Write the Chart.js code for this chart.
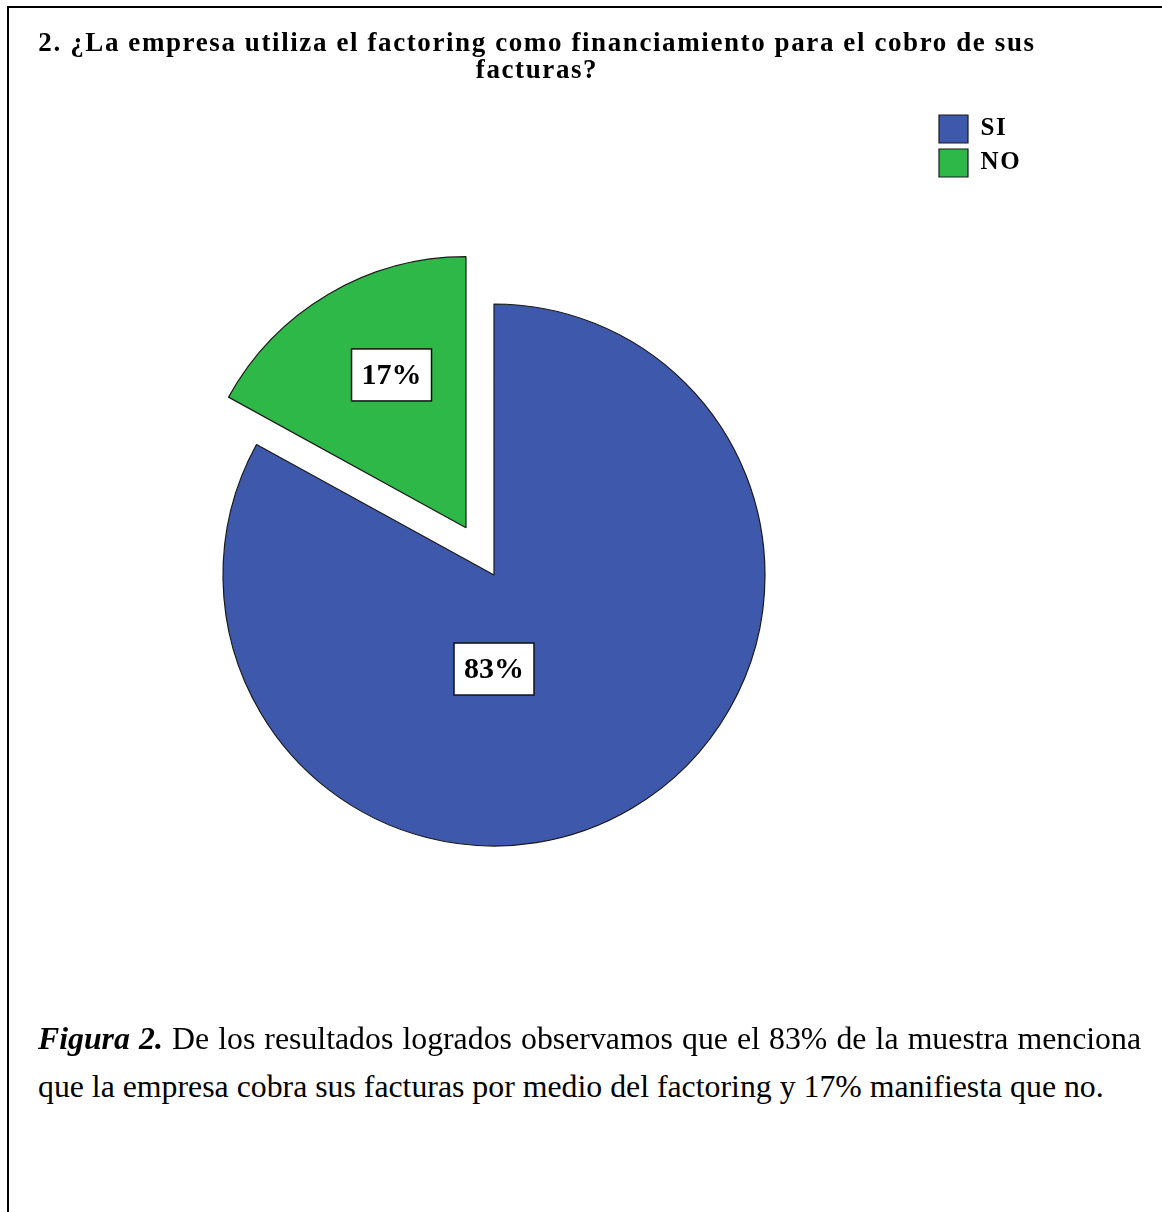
<!DOCTYPE html>
<html lang="es">

<head>
  <meta charset="UTF-8">
  <title>Factoring</title>
  <script src="https://cdn.jsdelivr.net/npm/chart.js"></script>
  <style>
    body { margin: 0; background: #fff; }
    #page { position: relative; width: 1162px; height: 1212px; overflow: hidden; }
    #frame {
      position: absolute; left: 7px; top: 6px; width: 1170px; height: 1220px;
      border-top: 2px solid #000; border-left: 2px solid #000;
    }
    #chartBox { position: absolute; left: 0; top: 0; }
    .caption {
      position: absolute; left: 38px; width: 1103px;
      font-family: 'Liberation Serif', 'Times New Roman', serif;
      font-size: 31.8px; color: #000; white-space: nowrap;
    }
    #cap1 { top: 1021px; text-align: justify; text-align-last: justify; white-space: normal; }
    #cap2 { top: 1069px; }
  </style>
</head>

<body>
  <div id="page">
    <div id="frame"></div>
    <div id="chartBox"><canvas id="pieChart" width="1074" height="1041"></canvas></div>
    <div class="caption" id="cap1"><b><i>Figura 2.</i></b> De los resultados logrados observamos que el 83% de la muestra menciona</div>
    <div class="caption" id="cap2">que la empresa cobra sus facturas por medio del factoring y 17% manifiesta que no.</div>
  </div>
  <script>

    var titleLines = [
      '2. ¿La empresa utiliza el factoring como financiamiento para el cobro de sus',
      'facturas?'
    ];
    var categories = ['SI', 'NO'];
    var percentages = [83, 17];
    var sliceColors = ['#3E58AC', '#2EB848'];

    Chart.defaults.font.family = "'Liberation Serif', 'Times New Roman', serif";
    Chart.defaults.color = '#000';

    // pulls slices out of the pie and puts boxed percentage labels on them
    var pieExtras = {
      id: 'pieExtras',
      afterLayout: function (chart) {
        // title is centred on the whole canvas, not on the padded area
        chart.titleBlock.left = 0;
        chart.titleBlock.right = chart.width;
      },
      beforeDraw: function (chart, args, opts) {
        // title and legend text in the original is loosely spaced
        chart.ctx.letterSpacing = opts.boxTextSpacing;
      },
      beforeDatasetsDraw: function (chart) {
        chart.ctx.letterSpacing = '0px';
      },
      afterDatasetUpdate: function (chart, args, opts) {
        args.meta.data.forEach(function (arc, i) {
          var d = opts.explode[i] || 0;
          if (!d) return;
          var mid = (arc.startAngle + arc.endAngle) / 2;
          arc.x += Math.cos(mid) * d;
          arc.y += Math.sin(mid) * d;
        });
      },
      afterDatasetsDraw: function (chart, args, opts) {
        var ctx = chart.ctx;
        var meta = chart.getDatasetMeta(0);
        var values = chart.data.datasets[0].data;
        var total = values.reduce(function (a, b) { return a + b; }, 0);
        ctx.save();
        ctx.font = 'bold 30px ' + Chart.defaults.font.family;
        ctx.textAlign = 'center';
        ctx.textBaseline = 'middle';
        meta.data.forEach(function (arc, i) {
          var spot = opts.labelAt[i];
          var ang = spot.deg * Math.PI / 180;
          var x = arc.x + Math.cos(ang) * arc.outerRadius * spot.dist;
          var y = arc.y + Math.sin(ang) * arc.outerRadius * spot.dist;
          var txt = Math.round(values[i] / total * 100) + '%';
          var w = ctx.measureText(txt).width + 20;
          var h = 52;
          ctx.fillStyle = '#fff';
          ctx.fillRect(x - w / 2, y - h / 2, w, h);
          ctx.lineWidth = 1.5;
          ctx.strokeStyle = '#111';
          ctx.strokeRect(x - w / 2, y - h / 2, w, h);
          ctx.fillStyle = '#000';
          ctx.fillText(txt, x, y + 1);
        });
        ctx.restore();
      }
    };

    new Chart(document.getElementById('pieChart'), {
      type: 'pie',
      data: {
        labels: categories,
        datasets: [{
          data: percentages,
          backgroundColor: sliceColors,
          borderColor: '#1a1a1a',
          borderWidth: 1.2
        }]
      },
      options: {
        responsive: false,
        animation: false,
        radius: 271,
        layout: { padding: { left: 55, right: 46, top: 0, bottom: 0 } },
        plugins: {
          title: {
            display: true,
            text: titleLines,
            font: { size: 27, weight: 'bold', lineHeight: 1.0 },
            padding: { top: 31, bottom: 24 },
            color: '#000'
          },
          legend: {
            position: 'right',
            align: 'start',
            fullSize: false,
            labels: {
              boxWidth: 29,
              boxHeight: 28,
              padding: 6,
              font: { size: 25, weight: 'bold' },
              color: '#000'
            }
          },
          tooltip: { enabled: false },
          pieExtras: {
            boxTextSpacing: '1.6px',
            explode: [0, 55],
            labelAt: [{ deg: 90, dist: 0.347 }, { deg: -116, dist: 0.627 }]
          }
        }
      },
      plugins: [pieExtras]
    });
  </script>
</body>

</html>
